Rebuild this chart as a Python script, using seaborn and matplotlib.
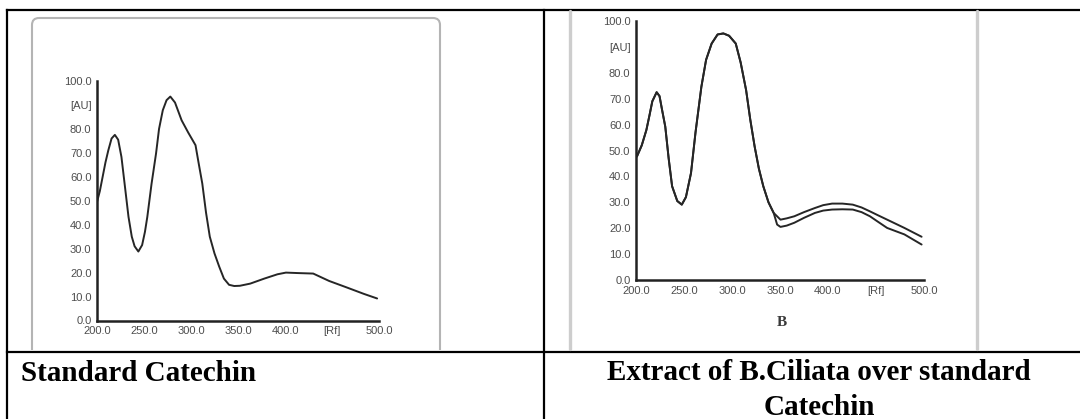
import matplotlib
matplotlib.use('Agg')
import matplotlib.pyplot as plt
from matplotlib.patches import FancyBboxPatch, Rectangle
import seaborn as sns
import pandas as pd

# Standard Catechin densitogram (Rf scale 200-500, [AU])
std_pos = [200, 203, 206, 209, 212, 215.5, 219, 222.5, 226, 230, 233.5, 237,
           240, 244, 248, 251, 253.5, 258, 262.8, 266, 270, 274, 278, 283,
           290, 297, 304.8, 308, 312, 316, 320, 325, 330, 335, 340.5, 346,
           352, 363, 378, 392, 401, 414, 430, 447, 465, 484, 498]
std_au = [49.5, 54, 60, 66, 71, 76, 77.5, 75.5, 68.3, 55, 43.3, 35,
          31, 28.8, 31.5, 37, 43.2, 57, 69.7, 80, 87.8, 92, 93.5, 91,
          83.6, 78.5, 73.2, 66, 57.2, 45, 35, 28, 22.5, 17.5, 14.9, 14.4,
          14.5, 15.4, 17.5, 19.3, 20, 19.8, 19.6, 16.5, 13.9, 11.1, 9.2]

# Extract of B. ciliata over standard: two traces, identical up to ~345
ext_common_pos = [201, 206, 210.8, 214, 217, 221.5, 224.5, 227, 230.5, 234,
                  237.6, 243, 247.7, 252, 257.3, 262, 268.1, 273, 278.8, 285,
                  291, 297, 303.9, 309, 314.7, 319, 323.6, 328, 332.6, 338,
                  343.4]
ext_common_au = [47.7, 52, 57.9, 63.5, 69, 72.5, 71, 66, 59.2, 47,
                 36.2, 30.5, 29.1, 32, 41.3, 57, 74.6, 85, 91.3, 94.8,
                 95.2, 94.3, 91.3, 84, 73.3, 62, 51.5, 43, 36.2, 30,
                 25.9]
ext_upper_pos = [350.5, 357, 364.9, 375, 386.4, 395, 404.3, 415, 425.8, 435,
                 443.7, 452, 461.6, 479.6, 497.5]
ext_upper_au = [23.3, 23.8, 24.6, 26.2, 27.8, 28.9, 29.5, 29.5, 29.1, 28,
                26.5, 25, 23.3, 20.1, 16.7]
ext_lower_pos = [347, 350.5, 357, 364.9, 375, 386.4, 395, 404.3, 415, 425.8,
                 435, 443.7, 452, 461.6, 479.6, 497.5]
ext_lower_au = [21.4, 20.5, 21, 22.1, 24, 25.9, 26.8, 27.2, 27.3, 27.2,
                26.2, 24.6, 22.5, 20.1, 17.6, 13.7]

y_ticks = [0, 10, 20, 30, 40, 50, 60, 70, 80, 90, 100]
y_labels = ['0.0', '10.0', '20.0', '30.0', '40.0', '50.0', '60.0', '70.0',
            '80.0', '[AU]', '100.0']
x_ticks = [200, 250, 300, 350, 400, 450, 500]
x_labels = ['200.0', '250.0', '300.0', '350.0', '400.0', '[Rf]', '500.0']

caption_left = 'Standard Catechin'
caption_right = ['Extract of B.Ciliata over standard', 'Catechin']
sub_label = 'B'

W, H = 1080, 419
sns.set_style('white')
plt.rcParams['font.family'] = ['Liberation Sans', 'DejaVu Sans']

fig = plt.figure(figsize=(W / 100, H / 100), dpi=100)


def ax_px(x0, y0, x1, y1):
    return fig.add_axes([x0 / W, 1 - y1 / H, (x1 - x0) / W, (y1 - y0) / H])


# page layer in pixel coordinates
bg = ax_px(0, 0, W, H)
bg.set_xlim(0, W)
bg.set_ylim(H, 0)
bg.axis('off')

# table rules
for xs, ys in [([7, W], [10, 10]), ([7, 7], [10, H]), ([544, 544], [10, H]),
               ([7, W], [352, 352])]:
    bg.plot(xs, ys, color='black', lw=1.6, solid_capstyle='projecting')

# rounded frame around the left picture, cut by the cell
frame = FancyBboxPatch((32, 18), 408, 420, boxstyle='round,pad=0,rounding_size=7',
                       ec='#b4b4b4', fc='none', lw=1.5)
bg.add_patch(frame)
frame.set_clip_path(Rectangle((0, 0), 543, 350, transform=bg.transData))

# grey edges of the right picture
for gx in [570, 977]:
    bg.plot([gx, gx], [11, 349], color='#cdcdcd', lw=2.4)

cap_kw = dict(fontfamily='Liberation Serif', fontweight='bold', fontsize=21,
              va='baseline', color='black')
bg.text(21, 381, caption_left, ha='left', **cap_kw)
bg.text(819, 380, caption_right[0], ha='center', **cap_kw)
bg.text(819, 415, caption_right[1], ha='center', **cap_kw)
bg.text(782, 322, sub_label, ha='center', va='center', fontsize=11,
        fontfamily='Liberation Serif', fontweight='bold', color='#3a3a3a')


def style_chart(ax):
    ax.set_facecolor('none')
    ax.set_xlim(200, 500)
    ax.set_ylim(0, 100)
    ax.set_xticks(x_ticks)
    ax.set_xticklabels(x_labels)
    ax.set_yticks(y_ticks)
    ax.set_yticklabels(y_labels)
    ax.set_xlabel('')
    ax.set_ylabel('')
    for s in ['top', 'right']:
        ax.spines[s].set_visible(False)
    for s in ['left', 'bottom']:
        ax.spines[s].set_color('#222222')
        ax.spines[s].set_linewidth(1.8)
    ax.tick_params(axis='both', length=2.5, width=1, color='#333333',
                   labelsize=8, labelcolor='#4d4d4d', pad=1.5)


left = ax_px(97, 81, 379, 320.5)
df_std = pd.DataFrame({'pos': std_pos, 'au': std_au})
sns.lineplot(data=df_std, x='pos', y='au', color='#262626', lw=1.4,
             estimator=None, sort=False, ax=left)
style_chart(left)

right = ax_px(636, 21, 924, 280)
df_ext = pd.concat([
    pd.DataFrame({'pos': ext_common_pos + ext_upper_pos,
                  'au': ext_common_au + ext_upper_au, 'trace': 'upper'}),
    pd.DataFrame({'pos': ext_common_pos + ext_lower_pos,
                  'au': ext_common_au + ext_lower_au, 'trace': 'lower'}),
], ignore_index=True)
sns.lineplot(data=df_ext, x='pos', y='au', hue='trace',
             palette=['#262626', '#262626'], lw=1.4, estimator=None,
             sort=False, legend=False, ax=right)
style_chart(right)

fig.savefig('out.png', dpi=100)
